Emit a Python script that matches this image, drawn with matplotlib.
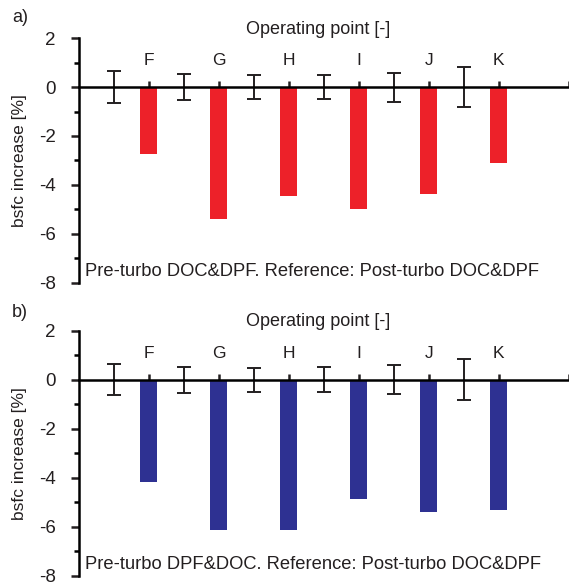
import numpy as np
import matplotlib
matplotlib.use('Agg')
import matplotlib.pyplot as plt
from matplotlib.ticker import MultipleLocator

plt.rcParams['font.family'] = ['Liberation Sans', 'DejaVu Sans']
plt.rcParams['axes.unicode_minus'] = False

# operating points
points = ['F', 'G', 'H', 'I', 'J', 'K']
# reference uncertainty (error bars around 0)
ref_err = [0.64, 0.53, 0.49, 0.50, 0.59, 0.83]
# bsfc increase, panel a) and b)
bsfc_a = [-2.73, -5.39, -4.47, -5.00, -4.36, -3.09]
bsfc_b = [-4.17, -6.13, -6.15, -4.88, -5.40, -5.30]
notes = ['Pre-turbo DOC&DPF. Reference: Post-turbo DOC&DPF',
         'Pre-turbo DPF&DOC. Reference: Post-turbo DOC&DPF']
tags = ['a)', 'b)']
colors = ['#ED2129', '#2E3192']
ink = '#231F20'

W, H = 569, 585
fig = plt.figure(figsize=(W / 100, H / 100), dpi=100)

# axes boxes in pixels: (left, top, right, bottom)
boxes = [(78.7, 38.2, 568.6, 282.7), (78.7, 330.7, 568.6, 575.7)]
tag_y = [17.5, 312.5]
title_y = [29, 321]

n = len(points)
x_err = np.arange(n) * 2 + 1
x_bar = np.arange(n) * 2 + 2

for k, vals in enumerate([bsfc_a, bsfc_b]):
    l, t, r, b = boxes[k]
    ax = fig.add_axes([l / W, 1 - b / H, (r - l) / W, (b - t) / H])
    ax.bar(x_bar, vals, width=0.5, color=colors[k], zorder=2)
    ax.errorbar(x_err, np.zeros(n), yerr=ref_err, fmt='none', ecolor=ink,
                elinewidth=1.4, capsize=4.8, capthick=1.4, zorder=3)
    ax.set_xlim(0, 14)
    ax.set_ylim(-8, 2)

    for s in ['right', 'bottom']:
        ax.spines[s].set_visible(False)
    ax.spines['left'].set_linewidth(1.8)
    ax.spines['top'].set_position(('data', 0))
    ax.spines['top'].set_linewidth(1.8)
    ax.spines['top'].set_zorder(4)

    ax.xaxis.set_ticks_position('top')
    ax.set_xticks(list(x_bar) + [14])
    ax.set_xticklabels(points + [''])
    ax.tick_params(axis='x', direction='out', length=4.5, width=1.8, pad=9,
                   labelsize=12.5, colors=ink)

    ax.yaxis.set_major_locator(MultipleLocator(2))
    ax.yaxis.set_minor_locator(MultipleLocator(1))
    ax.tick_params(axis='y', which='major', direction='out', length=5.5, width=1.8,
                   pad=11, labelsize=13.5, colors=ink)
    ax.tick_params(axis='y', which='minor', direction='out', length=3.5, width=1.8)

    fig.text(20 / W, 1 - (t + b) / 2 / H, 'bsfc increase [%]', rotation=90,
             fontsize=12.5, color=ink, ha='center', va='center')
    ax.text(0.012, 0.045, notes[k], transform=ax.transAxes, fontsize=13.2,
            color=ink, ha='left', va='center')
    fig.text(20 / W, 1 - tag_y[k] / H, tags[k], fontsize=13, color=ink,
             ha='center', va='center')
    fig.text(318 / W, 1 - title_y[k] / H, 'Operating point [-]', fontsize=13,
             color=ink, ha='center', va='center')

fig.savefig('out.png', dpi=100)
